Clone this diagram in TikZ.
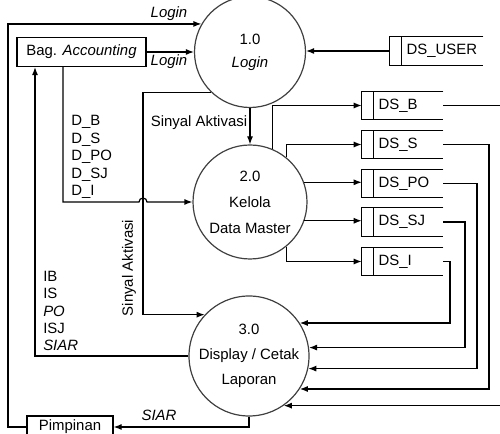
\documentclass[tikz,border=0pt]{standalone}
\usepackage{fontspec}
\setmainfont{Liberation Sans}
\usetikzlibrary{arrows.meta,calc}
\newcommand\fs{\fontsize{11.2}{13.1}\selectfont}
\newcommand\dstore[6]{%
  \node[inner sep=0pt, minimum width={(#4-#2)*0.75pt}, minimum height={(#5-#3)*0.75pt}] (#1) at ({(#2+#4)/2},{(#3+#5)/2}) {};
  \draw[storeline] (#1.north east) -- (#1.north west) -- (#1.south west) -- (#1.south east);
  \draw[storeline] ([xshift=9pt]#1.north west) -- ([xshift=9pt]#1.south west);
  \node[lbl, anchor=west] (#1t) at ([xshift=12.5pt]#1.west) {#6};}
\begin{document}
\begin{tikzpicture}[x=0.75pt,y=-0.75pt,
  line/.style={draw=black, line width=0.9pt},
  storeline/.style={draw=black, line width=0.9pt},
  arr/.style={line, -{Latex[length=6pt,width=4.5pt]}},
  proc/.style={circle, draw=black!75, line width=0.9pt, inner sep=0pt, align=center},
  ent/.style={draw=black, line width=0.9pt, inner sep=0pt, font=\fs},
  lbl/.style={inner sep=0pt, font=\fs},
  stack/.style={inner sep=0pt, align=left, font=\fs}]
\useasboundingbox (0,0) rectangle (500,434);
\clip (0,0) rectangle (500,434);
% processes
\node[proc, minimum size=83.25pt, font={\fontsize{11.2}{17.25}\selectfont}] (c1) at (250,52) {1.0\\\textit{Login}};
\node[proc, minimum size=85.5pt, font={\fontsize{11.2}{19.5}\selectfont}] (c2) at (250,202) {2.0\\Kelola\\Data Master};
\node[proc, minimum size=90pt, font={\fontsize{11.2}{18.75}\selectfont}] (c3) at (249,356) {3.0\\Display / Cetak\\Laporan};
% entities
\node[ent, minimum width=96.75pt, minimum height=21.75pt] (acc) at (81.5,52) {Bag. \textit{Accounting}};
\node[ent, minimum width=64.5pt, minimum height=16.5pt] (pim) at (70,427) {Pimpinan};
% stores
\dstore{dsu}{390}{37}{483}{65}{DS\_USER}
\dstore{dsb}{362}{92}{443}{119}{DS\_B}
\dstore{dss}{362}{131}{443}{158}{DS\_S}
\dstore{dspo}{362}{170}{443}{197}{DS\_PO}
\dstore{dssj}{362}{208}{443}{236}{DS\_SJ}
\dstore{dsi}{362}{248}{443}{275}{DS\_I}
% helper columns
\coordinate (outer) at (8,0);
\coordinate (sacol) at (143,200);
\coordinate (dcol) at (63,0);
\coordinate (ucol) at (35,0);
\coordinate (vB) at (515,0);
\coordinate (vS) at (489,0);
\coordinate (vPO) at (477,0);
\coordinate (vSJ) at (465,0);
\coordinate (vI) at (450,0);
% login flows
\draw[arr] (pim.west) -- (pim.west -| outer) |- (c1.150);
\node[lbl] (l1) at (169,14) {\textit{Login}};
\draw[arr] (acc.east) -- (c1.west);
\node[lbl] (l2) at (169,62) {\textit{Login}};
\draw[arr] (dsu.west) -- (c1.east |- dsu.west);
% activation signals
\draw[arr] (c1.south) -- (c2.north);
\node[lbl] (sa1) at (199,123) {Sinyal Aktivasi};
\draw[arr] (c1.226) -| (sacol) |- (c3.137);
\node[lbl, rotate=90] (sa2) at (129,268) {Sinyal Aktivasi};
% master data input
\draw[arr] (acc.south -| dcol) |- ($(sacol |- c2.west)+(-3pt,0)$) arc[start angle=180, end angle=0, radius=3pt] -- (c2.west);
\node[stack, anchor=west] (dl) at (71,157) {D\_B\\D\_S\\D\_PO\\D\_SJ\\D\_I};
% reports
\draw[arr] (c3.west) -| (ucol |- acc.south);
\node[stack, anchor=west] (ul) at (43,311) {IB\\IS\\\textit{PO}\\ISJ\\\textit{SIAR}};
\draw[arr] (c3.south) |- (pim.east);
\node[lbl] (sl) at (159,415) {\textit{SIAR}};
% kelola -> stores
\draw[arr] (c2.67) |- (dsb.west);
\draw[arr] (c2.51) |- (dss.west);
\draw[arr] (c2.20) -- (c2.20 -| dspo.west);
\draw[arr] (c2.-19) -- (c2.-19 -| dssj.west);
\draw[arr] (c2.-51) |- (dsi.west);
% stores -> display
\draw[arr] (dsb.east) -- (dsb.east -| vB) |- (c3.-55);
\draw[arr] (dss.east) -- (dss.east -| vS) |- (c3.-33);
\draw[arr] (dspo.east) -- (dspo.east -| vPO) |- (c3.-12);
\draw[arr] (dssj.east) -- (dssj.east -| vSJ) |- (c3.8);
\draw[arr] (dsi.east) -- (dsi.east -| vI) |- (c3.33);
\end{tikzpicture}
\end{document}
